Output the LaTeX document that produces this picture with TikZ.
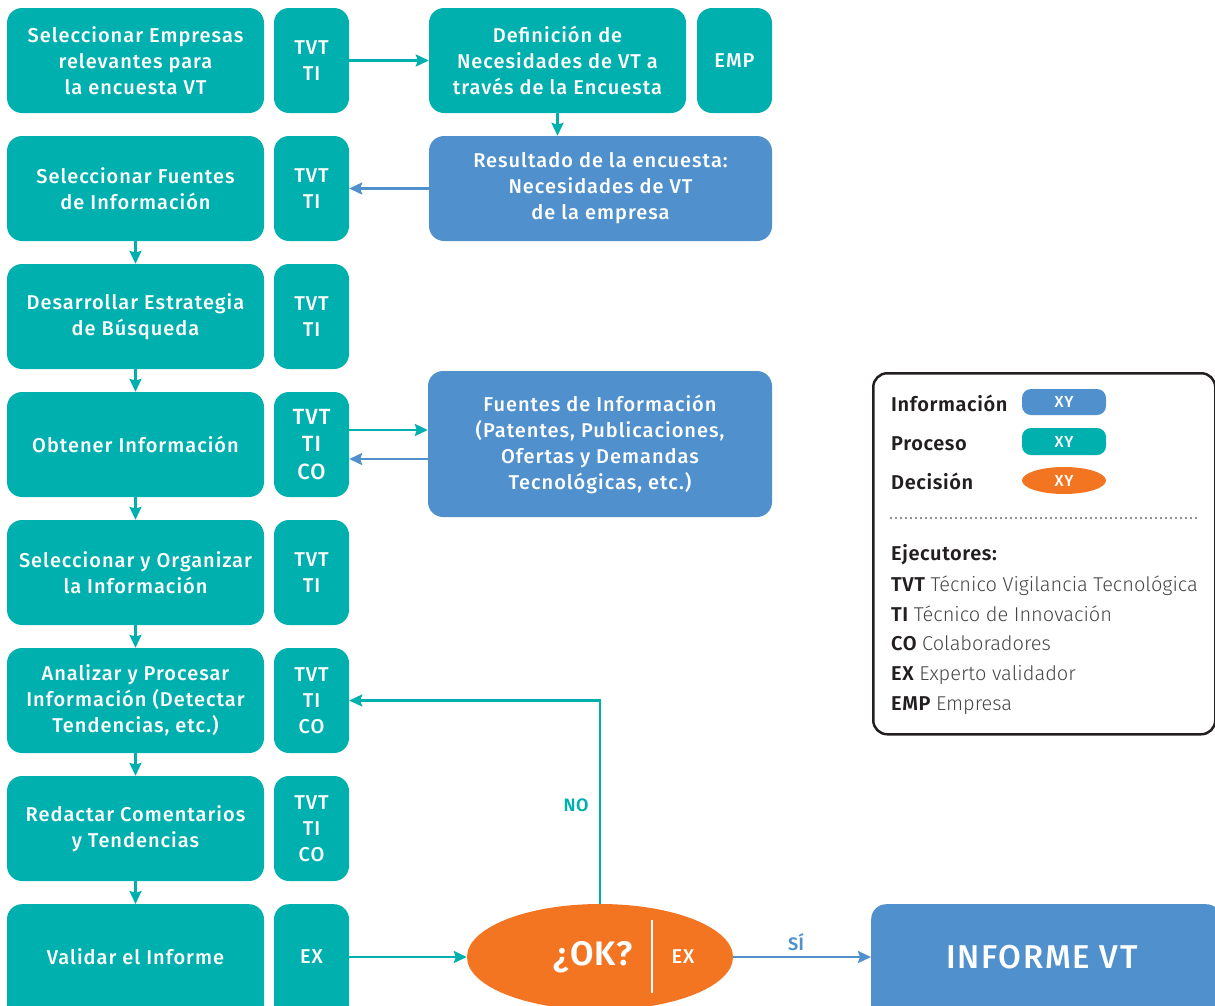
\documentclass[tikz,border=0pt]{standalone}
\usepackage{fontspec}
\setmainfont{Fira Sans}
\IfFontExistsTF{Fira Sans Medium}{\newfontfamily\medf{Fira Sans Medium}[LetterSpace=5]}{\newfontfamily\medf{Fira Sans}[LetterSpace=5]}
\IfFontExistsTF{Fira Sans SemiBold}{\newfontfamily\semif{Fira Sans SemiBold}[LetterSpace=3]}{\newfontfamily\semif{Fira Sans}[FakeBold=1.5,LetterSpace=3]}
\IfFontExistsTF{Fira Sans Light}{\newfontfamily\lightf{Fira Sans Light}}{\newfontfamily\lightf{Fira Sans}}
\usetikzlibrary{arrows.meta,shapes.geometric}
\definecolor{tealc}{RGB}{0,176,174}
\definecolor{bluec}{RGB}{80,144,204}
\definecolor{orangec}{RGB}{243,117,33}
\definecolor{darkc}{RGB}{35,31,32}
\definecolor{grayc}{RGB}{70,70,70}
\tikzset{
  proc/.style={fill=tealc, rounded corners=15pt, text=white, font=\medf\fontsize{20}{26}\selectfont, align=center, inner sep=0pt, minimum height=105pt},
  mainbox/.style={proc, minimum width=257pt},
  whobox/.style={proc, minimum width=75pt},
  infobox/.style={proc, fill=bluec},
  boxtext/.style={text=white, font=\medf\fontsize{20}{26}\selectfont, align=center, inner sep=0pt},
  arr/.style={line width=2.5pt, -{Stealth[length=13pt,width=12pt,inset=2pt]}},
  legtext/.style={anchor=base west, inner sep=0pt, text=darkc, font=\semif\fontsize{20}{22}\selectfont},
  pill/.style={text=white, font=\medf\fontsize{16}{16}\selectfont, inner sep=0pt, minimum width=84pt, minimum height=27pt}
}
\newcommand{\legd}[1]{{\lightf\color{grayc}#1}}
\begin{document}
\begin{tikzpicture}[x=1pt,y=-1pt]
\useasboundingbox (0,0) rectangle (1215,1005);
\clip (0,0) rectangle (1215,1005);
% left column
\node[mainbox] (s1) at (135.5,60.5) {Seleccionar Empresas\\relevantes para\\la encuesta VT};
\node[whobox] (w1) at (311.5,60.5) {TVT\\TI};
\node[mainbox] (s2) at (135.5,188.5) {Seleccionar Fuentes\\de Información};
\node[whobox] (w2) at (311.5,188.5) {TVT\\TI};
\node[mainbox] (s3) at (135.5,316.5) {Desarrollar Estrategia\\de Búsqueda};
\node[whobox] (w3) at (311.5,316.5) {TVT\\TI};
\node[mainbox] (s4) at (135.5,444.5) {Obtener Información};
\node[whobox, font=\medf\fontsize{22}{27.5}\selectfont] (w4) at (311.5,444.5) {TVT\\TI\\CO};
\node[mainbox] (s5) at (135.5,572.5) {Seleccionar y Organizar\\la Información};
\node[whobox] (w5) at (311.5,572.5) {TVT\\TI};
\node[mainbox] (s6) at (135.5,700.5) {Analizar y Procesar\\Información (Detectar\\Tendencias, etc.)};
\node[whobox] (w6) at (311.5,700.5) {TVT\\TI\\CO};
\node[mainbox] (s7) at (135.5,828.5) {Redactar Comentarios\\y Tendencias};
\node[whobox] (w7) at (311.5,828.5) {TVT\\TI\\CO};
\node[mainbox, minimum height=130pt, anchor=north] (s8) at (135.5,904) {};
\node[boxtext] (s8t) at (135.5,957) {Validar el Informe};
\node[whobox, minimum height=130pt, anchor=north] (w8) at (311.5,904) {};
\node[boxtext] (w8t) at (311.5,957) {EX};
% right column
\node[mainbox] (d1) at (557.5,60.5) {Definición de\\Necesidades de VT a\\través de la Encuesta};
\node[whobox] (e1) at (734.5,60.5) {EMP};
\node[infobox, minimum width=343pt] (r1) at (600.5,188.5) {Resultado de la encuesta:\\Necesidades de VT\\de la empresa};
\node[infobox, minimum width=344pt, minimum height=146pt] (f1) at (600,444) {Fuentes de Información\\(Patentes, Publicaciones,\\Ofertas y Demandas\\Tecnológicas, etc.)};
% decision
\node[ellipse, fill=orangec, minimum width=266pt, minimum height=106pt, inner sep=0pt] (ok) at (600,957) {};
\node[text=white, font=\semif\fontsize{34}{36}\selectfont, inner sep=0pt] (okt) at (593,957) {¿OK?};
\node[boxtext] (okex) at (683,957) {EX};
\draw[white, line width=2.5pt] (652,920) -- (652,993);
% informe
\node[infobox, minimum width=350pt, minimum height=130pt, anchor=north west] (inf) at (871,904) {};
\node[text=white, font=\medf\fontsize{33}{34}\selectfont, inner sep=0pt] (inft) at (1042,957) {INFORME VT};
% connectors
\draw[arr, tealc] (w1.east) -- (d1.west);
\draw[arr, tealc] (d1.south) -- (d1.south |- r1.north);
\draw[arr, bluec] (r1.west) -- (r1.west -| w2.east);
\foreach \a/\b in {s2/s3, s3/s4, s4/s5, s5/s6, s6/s7, s7/s8}{
  \draw[arr, tealc] (\a.south) -- (\b.north);
}
\draw[arr, tealc] ([yshift=14.5pt]w4.east) -- ([yshift=14.5pt]w4.east -| f1.west);
\draw[arr, bluec] ([yshift=-14.5pt]w4.east -| f1.west) -- ([yshift=-14.5pt]w4.east);
\draw[arr, tealc] (w8.east |- ok.west) -- (ok.west);
\draw[arr, tealc] (ok.north) -- (ok.north |- w6.east) -- (w6.east);
\node[text=tealc, font=\semif\fontsize{18}{20}\selectfont, inner sep=0pt] (nolab) at (576,805) {NO};
\draw[arr, bluec] (ok.east) -- (ok.east -| inf.west);
\node[text=bluec, font=\semif\fontsize{18}{20}\selectfont, inner sep=0pt] (silab) at (796,942) {SÍ};
% legend
\node[draw=darkc, line width=2.5pt, rounded corners=14pt, minimum width=342pt, minimum height=361pt, anchor=north west, inner sep=0pt] (leg) at (872,372) {};
\node[legtext] (li) at (891,411) {Información};
\node[legtext] (lp) at (891,450) {Proceso};
\node[legtext] (ld) at (891,489) {Decisión};
\node[pill, fill=bluec, rounded corners=9pt, minimum height=26pt] (pi) at (1064,402) {XY};
\node[pill, fill=tealc, rounded corners=9pt] (pp) at (1064,441.5) {XY};
\node[pill, fill=orangec, ellipse] (pd) at (1064,480.5) {XY};
\draw[darkc, line width=1.6pt, line cap=round, dash pattern=on 0pt off 5pt] (891,518) -- (1197,518);
\node[legtext] (le) at (891,560) {Ejecutores:};
\node[legtext] (l1) at (891,591) {TVT \legd{Técnico Vigilancia Tecnológica}};
\node[legtext] (l2) at (891,621) {TI \legd{Técnico de Innovación}};
\node[legtext] (l3) at (891,650) {CO \legd{Colaboradores}};
\node[legtext] (l4) at (891,680) {EX \legd{Experto validador}};
\node[legtext] (l5) at (891,710) {EMP \legd{Empresa}};
\end{tikzpicture}
\end{document}
